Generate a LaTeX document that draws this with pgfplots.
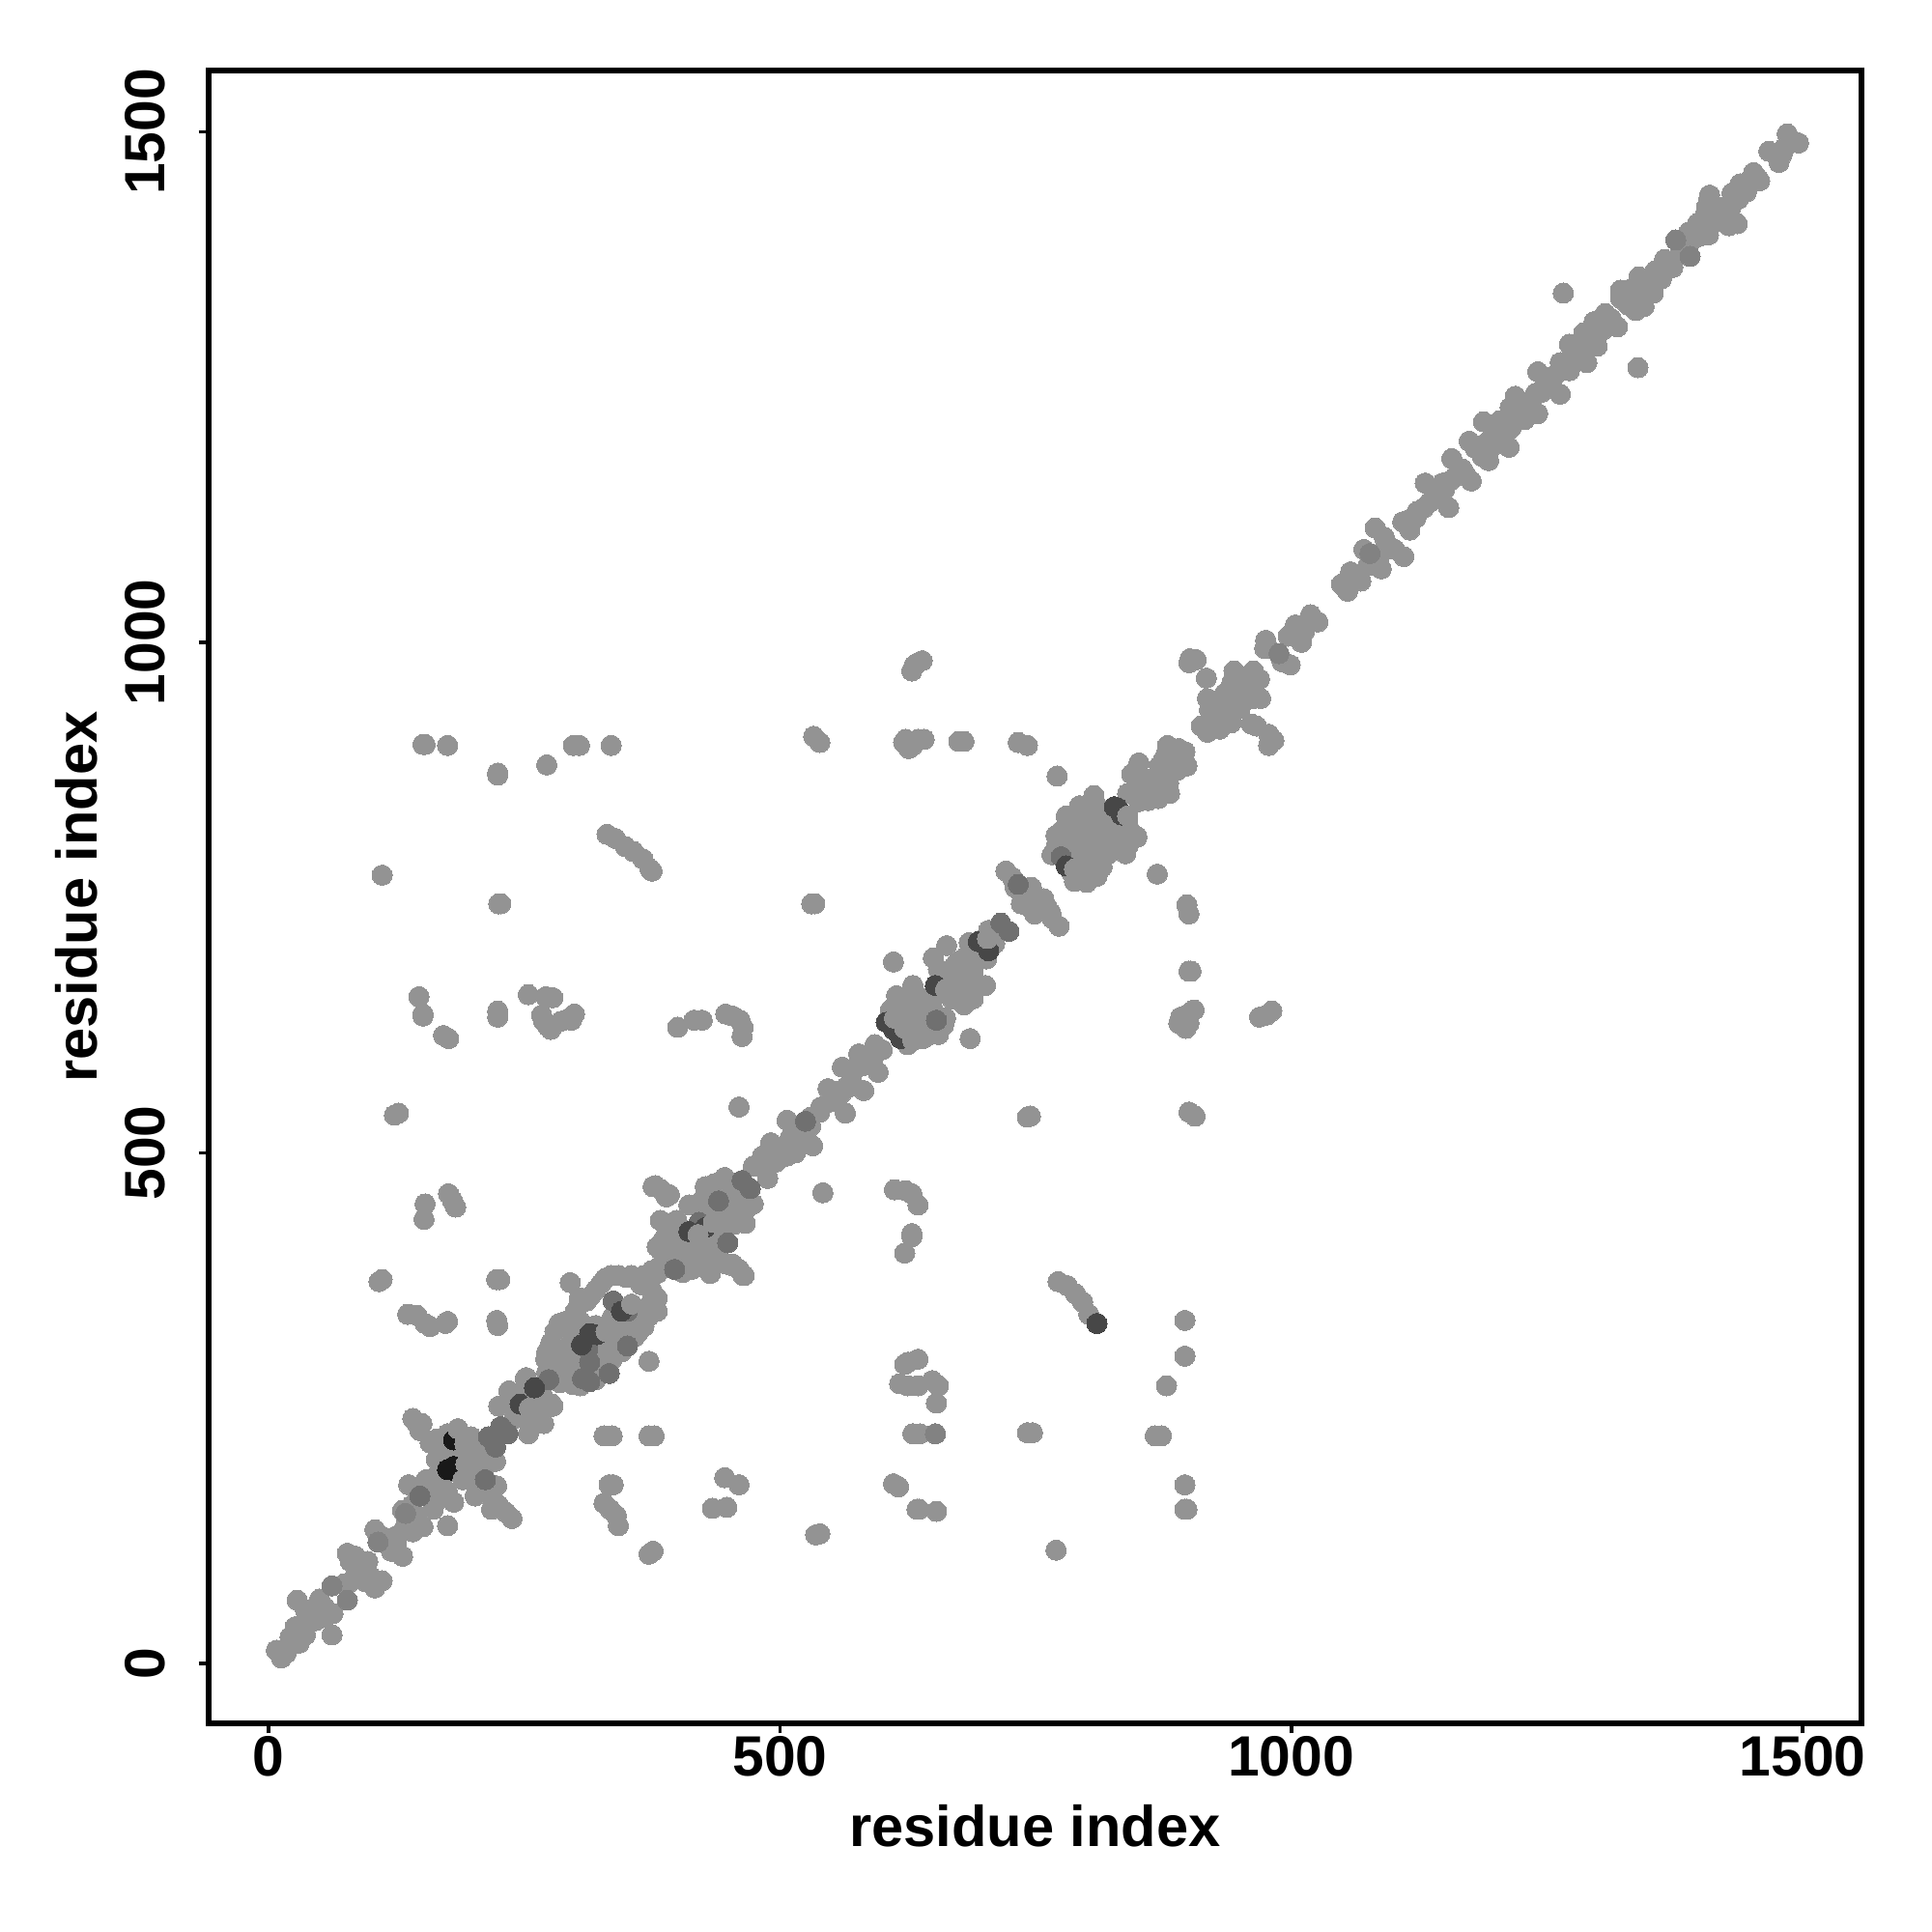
\documentclass[border=0pt]{standalone}
\usepackage{pgfplots}
\pgfplotsset{compat=1.18}
\usepackage{fontspec}
\setmainfont{Liberation Sans}[Scale=1]
\definecolor{gmain}{gray}{0.575}
\definecolor{gsoft}{gray}{0.51}
\definecolor{gmid}{gray}{0.44}
\definecolor{gdark}{gray}{0.28}
\definecolor{gblack}{gray}{0.10}
\begin{document}
\begin{tikzpicture}
\useasboundingbox (0,0) rectangle (500pt,500pt);
\begin{axis}[
  at={(54pt,54pt)}, anchor=south west,
  scale only axis, width=427.75pt, height=427.75pt,
  xmin=-58.6, xmax=1557.6, ymin=-58.6, ymax=1560,
  xtick={0,500,1000,1500}, ytick={0,500,1000,1500},
  axis line style={line width=1.5pt, black},
  tick style={line width=0.9pt, black},
  major tick length=2.6pt,
  tick pos=left, tick align=outside,
  /pgf/number format/assume math mode=true,
  /pgf/number format/1000 sep={},
  font=\fontsize{14.7pt}{17pt}\selectfont\bfseries,
  x tick label style={anchor=center, yshift=-6pt},
  y tick label style={rotate=90, anchor=center, yshift=13.8pt},
  every axis x label/.style={at={(axis description cs:0.5,0)},anchor=center,yshift=-26.5pt,font=\fontsize{14.9pt}{17pt}\selectfont\bfseries},
  every axis y label/.style={at={(axis description cs:0,0.5)},anchor=center,rotate=90,yshift=34.25pt,font=\fontsize{14.9pt}{17pt}\selectfont\bfseries},
  xlabel={residue index}, ylabel={residue index},
  clip=true,
]
% main grey points
\addplot[only marks, mark=*, mark size=2.62pt, color=gmain, mark options={line width=0pt}] table {
x y
1485 1498
1496 1489
1467 1481
1477 1470
1482 1484
1472 1479
1452 1460
1458 1452
1439 1449
1445 1441
1431 1440
1437 1434
1409 1438
1408 1432
1406 1426
1436 1410
1428 1408
1425 1418
1422 1426
1430 1426
1397 1410
1408 1399
1395 1396
1408 1407
1417 1415
1389 1402
1381 1386
1365 1375
1373 1367
1356 1364
1362 1356
1340 1358
1346 1348
1322 1345
1322 1337
1337 1325
1345 1329
1330 1330
1335 1342
1354 1342
1329 1345
1307 1322
1319 1309
1313 1317
1296 1314
1305 1306
1286 1303
1299 1290
1272 1292
1289 1274
1280 1282
1263 1274
1272 1266
1241 1265
1263 1243
1248 1257
1255 1251
1219 1241
1241 1224
1230 1235
1214 1230
1228 1218
1239 1244
1204 1217
1215 1210
1188 1216
1213 1191
1197 1205
1204 1199
1174 1197
1193 1178
1184 1188
1176 1158
1157 1180
1167 1170
1131 1156
1154 1132
1142 1145
1148 1156
1160 1162
1135 1137
1109 1118
1116 1110
1123 1128
1082 1112
1110 1084
1091 1103
1101 1091
1071 1091
1088 1072
1079 1079
1086 1084
1058 1069
1068 1060
1049 1057
1055 1050
1061 1061
1019 1027
1026 1020
1004 1017
1013 1011
997 1006
1010 1000
975 1002
974 994
978 994
999 978
991 981
901 984
900 980
907 983
917 965
944 972
963 972
969 964
942 961
970 945
963 945
944 951
956 957
918 945
933 945
920 934
942 934
931 929
912 918
918 912
941 921
930 921
961 920
966 918
978 910
983 904
978 899
879 899
890 896
898 879
878 891
896 893
885 885
889 875
871 879
868 866
851 882
844 871
881 852
870 847
851 844
840 852
859 856
862 866
840 823
849 809
843 815
838 793
807 850
793 840
770 811
766 792
849 810
840 816
837 795
810 771
788 766
790 811
817 815
803 827
820 792
786 827
830 821
810 795
790 776
800 802
827 805
800 818
721 776
727 770
736 754
746 760
758 749
773 722
766 730
749 734
736 744
756 738
743 747
761 741
704 718
707 712
685 706
702 690
650 691
655 680
679 690
672 677
689 677
660 656
668 651
689 651
701 664
679 657
630 664
614 654
641 651
662 632
655 616
608 640
625 606
640 612
628 641
635 625
646 635
625 654
600 601
593 606
577 597
596 579
561 584
582 561
574 584
564 539
547 563
560 558
539 540
507 532
532 507
530 526
491 510
513 510
507 497
488 475
474 487
483 497
496 491
446 476
427 467
436 470
474 450
466 431
463 437
455 456
446 440
411 449
383 434
399 434
386 415
380 408
400 415
405 383
414 386
432 382
433 393
418 402
430 405
396 399
383 405
440 415
452 459
468 446
424 443
436 431
454 443
378 468
389 457
454 391
465 380
460 386
380 382
367 380
342 380
355 380
329 377
320 366
311 355
304 352
284 333
296 336
276 314
271 298
298 273
282 292
292 279
323 295
336 298
358 320
367 330
380 345
380 358
364 371
373 352
336 339
361 336
331 320
320 331
296 314
295 292
323 286
355 323
348 314
304 358
251 279
277 254
270 251
257 245
252 280
278 252
235 267
225 252
254 225
269 235
259 248
249 241
141 240
148 228
158 216
175 225
198 222
215 203
222 198
195 196
205 216
164 200
223 174
202 164
218 151
238 142
232 148
225 155
137 175
154 180
175 167
181 158
175 135
161 151
131 150
151 134
141 129
132 131
104 131
131 105
117 116
77 108
104 74
97 100
87 91
111 81
74 78
28 62
62 28
50 63
63 49
46 42
36 52
26 36
36 28
21 26
30 20
7.6 13
12.6 5.5
17 10
1266 1342
1339 1269
151 900
153 900
175 899
224 872
224 870
272 880
298 899
304 899
335 899
533 908
539 902
623 905
626 896
635 905
641 905
621 902
630 899
675 903
680 903
733 902
742 899
771 869
631 977
629 972
639 982
635 980
111 772
331 812
339 808
349 800
357 795
366 788
373 778
375 776
225 744
227 744
534 744
531 744
869 773
898 743
900 734
900 678
902 678
147 653
151 636
151 634
224 633
224 639
254 655
271 653
278 652
267 635
273 624
269 629
276 621
294 632
299 636
296 630
286 629
171 615
176 612
400 623
416 630
424 630
447 636
454 634
461 630
464 623
463 614
686 612
663 703
611 687
890 627
894 629
899 636
903 639
892 633
900 627
905 640
897 622
969 633
976 635
981 639
460 545
123 537
127 539
742 535
745 536
900 540
906 536
176 460
180 453
183 447
153 450
152 435
542 461
612 464
623 463
629 460
635 449
629 421
629 418
622 402
108 374
111 376
223 376
226 376
772 374
781 370
789 362
796 354
802 342
136 342
145 341
153 333
158 330
173 333
175 335
223 336
224 331
896 336
896 301
295 373
372 296
625 295
635 298
622 293
617 274
625 272
635 272
649 277
655 272
653 255
878 272
328 223
336 223
372 223
377 223
630 225
637 225
742 226
747 226
867 223
873 223
896 175
898 151
896 151
446 182
460 175
611 176
616 173
333 175
337 175
328 157
334 151
340 145
342 135
434 152
448 153
634 151
636 151
653 149
535 126
539 127
372 107
376 110
770 111
448 391
455 389
464 380
376 467
384 464
392 459
1480 1478
1433 1438
1441 1445
1448 1452
1455 1456
1415 1420
1420 1412
1412 1425
1403 1415
1400 1398
1388 1390
1380 1380
1370 1372
1360 1360
1350 1352
1330 1338
1338 1335
1342 1338
1328 1332
1335 1328
1325 1340
1348 1342
1315 1312
1310 1312
1300 1302
1292 1296
1285 1287
1275 1280
1268 1270
1258 1262
1250 1250
1245 1245
1235 1235
1228 1232
1222 1228
1235 1225
1222 1218
1210 1215
1205 1208
1210 1205
1200 1200
1190 1195
1195 1190
1180 1190
1187 1182
1170 1165
1163 1165
1155 1158
1150 1150
1145 1150
1140 1140
1130 1132
1122 1122
1115 1120
1090 1090
1080 1080
1075 1075
1095 1095
1062 1065
1055 1060
1052 1054
925 938
935 938
925 925
925 930
930 915
935 950
950 950
950 965
955 965
960 955
950 935
885 895
875 885
880 875
890 885
865 860
860 850
870 865
855 860
880 862
875 855
850 858
860 845
780 800
795 815
815 800
805 810
795 790
800 790
775 815
780 830
810 840
820 830
830 810
815 780
800 765
805 785
785 775
795 830
840 800
770 800
730 760
740 750
750 745
755 745
765 735
745 740
690 695
695 700
700 700
710 705
680 685
672 685
668 665
685 670
665 670
660 665
675 668
680 645
620 620
630 630
640 640
650 625
640 625
620 635
610 630
630 615
645 615
615 625
650 640
660 625
625 620
635 650
640 630
590 590
580 585
570 575
565 565
555 560
550 550
540 545
530 535
520 520
525 520
510 515
500 505
495 500
490 490
500 495
515 500
570 565
585 595
390 425
395 415
405 425
410 410
415 415
425 420
435 450
445 450
455 445
450 430
440 430
440 400
420 390
408 395
445 425
455 430
460 450
425 455
350 378
335 380
325 372
315 360
300 345
290 335
280 325
272 305
272 285
285 275
305 272
320 278
345 305
352 318
362 325
372 340
378 350
375 365
370 372
290 305
283 305
300 300
310 285
320 305
335 310
345 318
300 325
305 335
345 330
375 385
385 392
240 255
245 262
265 258
262 240
240 240
268 262
150 235
145 235
165 220
170 208
185 210
190 220
205 205
210 190
215 170
220 160
190 180
200 180
210 175
170 175
165 185
145 170
165 160
155 165
140 155
145 145
135 140
125 125
115 120
110 125
120 110
125 118
80 100
90 95
100 85
85 105
95 80
80 80
85 85
45 55
55 45
40 45
55 55
38 40
};
% faintly darker points
\addplot[only marks, mark=*, mark size=2.62pt, color=gsoft, mark options={line width=0pt}] table {
x y
1376 1394
1390 1378
1077 1087
988 989
652 225
62 76
77 62
134 147
107 119
};
% slightly darker points
\addplot[only marks, mark=*, mark size=2.62pt, color=gmid, mark options={line width=0pt}] table {
x y
775 790
733 763
716 725
724 717
653 630
525 531
463 473
471 465
449 412
440 453
421 432
397 386
307 279
314 276
333 284
314 295
351 311
337 355
351 345
312 308
274 278
227 232
234 225
215 222
222 212
212 180
148 164
};
% dark points
\addplot[only marks, mark=*, mark size=2.62pt, color=gdark, mark options={line width=0pt}] table {
x y
830 838
833 834
827 839
834 831
780 781
694 707
704 698
652 664
604 628
611 621
618 612
427 427
411 423
345 345
321 322
314 323
306 312
260 270
246 254
810 333
};
% very dark points
\addplot[only marks, mark=*, mark size=2.62pt, color=gblack, mark options={line width=0pt}] table {
x y
181 193
180 190
185 187
175 190
181 219
};
% grey points lying over the dark ones
\addplot[only marks, mark=*, mark size=2.62pt, color=gmain, mark options={line width=0pt}] table {
x y
193 195
190 180
192 215
185 230
840 830
703 710
662 660
612 632
622 622
630 610
435 432
420 420
355 352
330 325
255 250
788 778
};
\end{axis}
\end{tikzpicture}
\end{document}
